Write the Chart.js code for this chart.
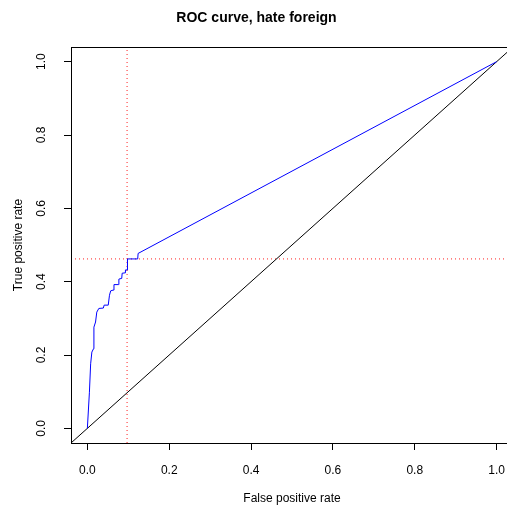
<!DOCTYPE html>
<html>
<head>
<meta charset="utf-8">
<title>ROC curve, hate foreign</title>
<script src="https://cdn.jsdelivr.net/npm/chart.js@4/dist/chart.umd.min.js"></script>
<style>
  html, body { margin: 0; padding: 0; background: #fff; overflow: hidden; }
  #wrap { width: 584px; height: 510px; }
</style>
</head>
<body>
<div id="wrap"><canvas id="roc" width="584" height="510"></canvas></div>
<script>
// ── Data ────────────────────────────────────────────────────────
const axisTicks = [0, 0.2, 0.4, 0.6, 0.8, 1.0];
const axisRange = [-0.04, 1.04];

// ROC curve (false positive rate, true positive rate)
const rocFpr = [0, 0.005, 0.008, 0.011, 0.015, 0.016, 0.020, 0.023, 0.028, 0.039, 0.041, 0.051,
  0.054, 0.057, 0.063, 0.065, 0.076, 0.077, 0.084, 0.085, 0.092, 0.093, 0.098, 0.098, 0.123, 0.124, 1.0];
const rocTpr = [0, 0.0985, 0.176, 0.208, 0.217, 0.276, 0.290, 0.317, 0.327, 0.328, 0.336, 0.336,
  0.363, 0.375, 0.377, 0.392, 0.392, 0.407, 0.409, 0.423, 0.424, 0.432, 0.432, 0.462, 0.462, 0.477, 1.0];

// chance line and the cut-off guides
const chanceLine = [-0.04, 1.04];
const cutoffFpr = 0.097;
const cutoffTpr = 0.462;

const FONT = 'Liberation Sans, Arial, Helvetica, sans-serif';

// box round the plot region, like R's box()
const plotBox = {
  id: 'plotBox',
  afterDatasetsDraw(chart) {
    const { ctx, chartArea: a } = chart;
    ctx.save();
    ctx.strokeStyle = '#000';
    ctx.lineWidth = 1;
    ctx.strokeRect(Math.round(a.left) + 0.5, Math.round(a.top) + 0.5,
      Math.round(a.width), Math.round(a.height));
    ctx.restore();
  }
};

const line = (data, color, dash) => ({
  data,
  showLine: true,
  borderColor: color,
  borderWidth: 1,
  borderDash: dash || [],
  pointRadius: 0,
  tension: 0,
});

const setTicks = (s) => { s.ticks = axisTicks.map(v => ({ value: v })); };

new Chart(document.getElementById('roc'), {
  type: 'scatter',
  data: {
    datasets: [
      line(rocFpr.map((x, i) => ({ x, y: rocTpr[i] })), '#0000ff'),
      line(chanceLine.map(v => ({ x: v, y: v })), '#000'),
      line(axisRange.map(v => ({ x: v, y: cutoffTpr })), '#ff2020', [1, 3]),
      line(axisRange.map(v => ({ x: cutoffFpr, y: v })), '#ff2020', [1, 3]),
    ],
  },
  options: {
    responsive: false,
    animation: false,
    devicePixelRatio: 1,
    layout: { padding: { left: 0, top: 0, right: 71, bottom: 0 } },
    plugins: {
      legend: { display: false },
      tooltip: { enabled: false },
      title: {
        display: true,
        text: 'ROC curve, hate foreign',
        color: '#000',
        font: { family: FONT, size: 14, weight: 'bold' },
        padding: { top: 10, bottom: 20.2 },
      },
    },
    scales: {
      x: {
        type: 'linear',
        position: 'bottom',
        min: axisRange[0],
        max: axisRange[1],
        afterBuildTicks: setTicks,
        afterFit: (s) => { s.height = 67; },
        ticks: {
          color: '#000',
          font: { family: FONT, size: 12 },
          padding: 13,
          maxRotation: 0,
          autoSkip: false,
          callback: (v) => v.toFixed(1),
        },
        grid: { drawOnChartArea: false, drawTicks: true, tickLength: 7, color: '#000', lineWidth: 1 },
        border: { display: true, color: '#000', width: 1 },
        title: {
          display: true,
          text: 'False positive rate',
          color: '#000',
          font: { family: FONT, size: 12 },
          padding: { top: 0, bottom: 4 },
        },
      },
      y: {
        type: 'linear',
        position: 'left',
        min: axisRange[0],
        max: axisRange[1],
        afterBuildTicks: setTicks,
        afterFit: (s) => { s.width = 71; },
        ticks: {
          color: '#000',
          font: { family: FONT, size: 12 },
          padding: 14,
          minRotation: 90,
          maxRotation: 90,
          crossAlign: 'center',
          autoSkip: false,
          callback: (v) => v.toFixed(1),
        },
        grid: { drawOnChartArea: false, drawTicks: true, tickLength: 7, color: '#000', lineWidth: 1 },
        border: { display: true, color: '#000', width: 1 },
        title: {
          display: true,
          text: 'True positive rate',
          color: '#000',
          font: { family: FONT, size: 12 },
          padding: { top: 11, bottom: 0 },
        },
      },
    },
  },
  plugins: [plotBox],
});
</script>
</body>
</html>
